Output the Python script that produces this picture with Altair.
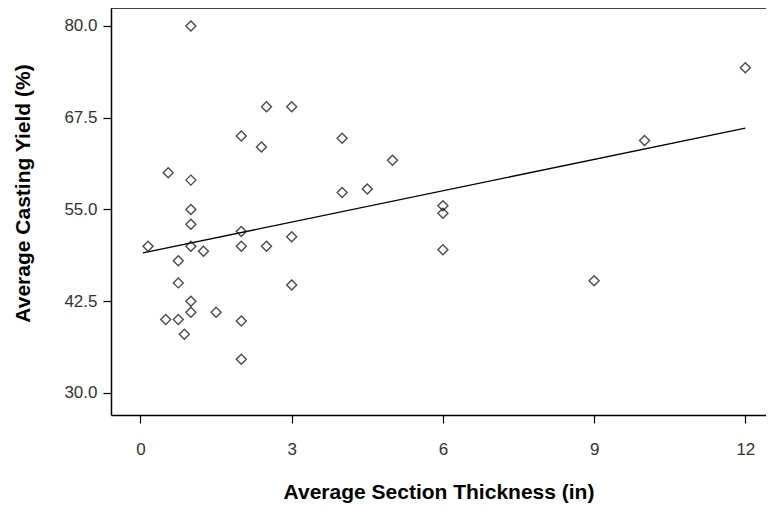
import altair as alt
import pandas as pd

# Average section thickness (in) and average casting yield (%)
thickness = [0.15, 0.5, 0.55, 0.75, 0.75, 0.75, 0.87,
             1.0, 1.0, 1.0, 1.0, 1.0, 1.0, 1.0,
             1.25, 1.5,
             2.0, 2.0, 2.0, 2.0, 2.0,
             2.4, 2.5, 2.5,
             3.0, 3.0, 3.0,
             4.0, 4.0, 4.5, 5.0,
             6.0, 6.0, 6.0,
             9.0, 10.0, 12.0]
yield_pct = [50.0, 40.0, 60.0, 48.0, 45.0, 40.0, 38.0,
             80.0, 59.0, 55.0, 53.0, 50.0, 42.5, 41.0,
             49.3, 41.0,
             65.0, 52.0, 50.0, 39.8, 34.6,
             63.5, 69.0, 50.0,
             69.0, 51.3, 44.7,
             64.7, 57.3, 57.8, 61.7,
             55.5, 54.5, 49.5,
             45.3, 64.4, 74.3]

x_ticks = [0, 3, 6, 9, 12]
y_ticks = [30.0, 42.5, 55.0, 67.5, 80.0]

df = pd.DataFrame({"thickness": thickness, "yield": yield_pct})

W = 655
H = 407

xscale = alt.Scale(domain=[-0.585, 12.41], nice=False, zero=False)
yscale = alt.Scale(domain=[27.0, 82.45], nice=False, zero=False)

xenc = alt.X("thickness:Q", scale=xscale,
             title="Average Section Thickness (in)",
             axis=alt.Axis(values=x_ticks, format="d", labelPadding=18,
                           titleY=83, titleBaseline="alphabetic"))
yenc = alt.Y("yield:Q", scale=yscale,
             title="Average Casting Yield (%)",
             axis=alt.Axis(values=y_ticks, format=".1f", labelPadding=6,
                           titleX=-82, titleY=185, titleAngle=-90,
                           titleAlign="center", titleBaseline="alphabetic"))

points = alt.Chart(df).mark_point(
    shape="diamond", filled=False, color="black", size=100, strokeWidth=1.4
).encode(x=xenc, y=yenc)

line = alt.Chart(df).transform_regression(
    "thickness", "yield", extent=[0.05, 12.0]
).mark_line(color="black", strokeWidth=1.3).encode(x=xenc, y=yenc)

top = alt.Chart(pd.DataFrame({"a": [0]})).mark_rule(
    color="black", strokeWidth=1.5
).encode(y=alt.value(0), x=alt.value(0), x2=alt.value(W))

chart = alt.layer(points, line, top).properties(
    width=W, height=H,
    autosize=alt.AutoSizeParams(type="none"),
    padding={"left": 103, "top": 0, "right": 0, "bottom": 88},
).configure_view(stroke=None).configure_axis(
    grid=False,
    domainColor="black", domainWidth=1.5,
    tickColor="black", tickWidth=1.2, tickSize=8,
    labelFont="Liberation Sans", labelFontSize=17, labelColor="#333",
    titleFont="Liberation Sans", titleFontWeight="bold", titleFontSize=21,
    titleColor="black",
)

chart.save("out.html", embed_options={"renderer": "svg", "actions": False})
